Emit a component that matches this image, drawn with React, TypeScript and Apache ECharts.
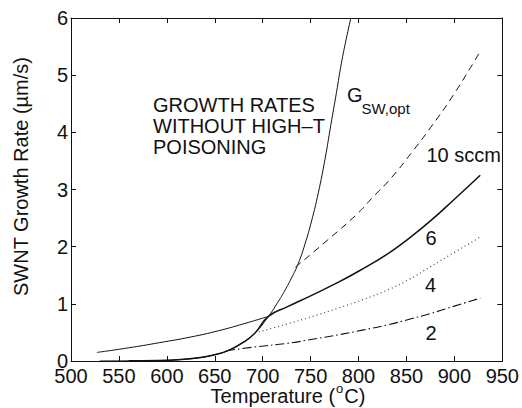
import React, { useEffect, useRef } from "react";
import * as echarts from "echarts";

// Optimal (no-poisoning) growth rate G_SW,opt
const gOptT = [530, 560, 590, 615, 635, 650, 665, 680, 692, 706, 714, 722, 730, 737, 744, 751, 758, 765, 771, 777, 782, 787, 792];
const gOptV = [0.001, 0.003, 0.008, 0.026, 0.06, 0.11, 0.19, 0.33, 0.49, 0.78, 0.98, 1.2, 1.45, 1.7, 2.04, 2.45, 2.94, 3.53, 4.12, 4.7, 5.2, 5.62, 6.0];

// 10 sccm (dashed)
const tenT = [734, 768, 799, 814, 835, 856, 875, 900, 927];
const tenV = [1.64, 2.12, 2.58, 2.85, 3.22, 3.66, 4.08, 4.68, 5.42];

// 6 sccm (solid)
const sixT = [527, 560, 592, 625, 654, 680, 706, 726, 750, 778, 800, 830, 853, 875, 900, 927];
const sixV = [0.15, 0.23, 0.32, 0.42, 0.53, 0.65, 0.78, 0.95, 1.14, 1.37, 1.57, 1.87, 2.15, 2.45, 2.83, 3.25];

// 4 sccm (dotted)
const fourT = [692, 726, 752, 778, 804, 830, 853, 875, 900, 927];
const fourV = [0.49, 0.65, 0.78, 0.92, 1.07, 1.24, 1.43, 1.65, 1.9, 2.17];

// 2 sccm (dash-dot)
const twoT = [662, 694, 726, 752, 778, 804, 830, 853, 875, 900, 927];
const twoV = [0.18, 0.25, 0.31, 0.38, 0.455, 0.54, 0.63, 0.73, 0.83, 0.96, 1.1];

const xMin = 500;
const xMax = 950;
const xStep = 50;
const yMin = 0;
const yMax = 6;
const yStep = 1;

const FONT = "'Liberation Sans', Arial, Helvetica, sans-serif";
const INK = "#111";

function pairs(t: number[], v: number[]) {
  return t.map((x, i) => [x, v[i]]);
}

export default function App() {
  const ref = useRef<HTMLDivElement>(null);

  useEffect(() => {
    document.body.style.margin = "0";
    const chart = echarts.init(ref.current!, null, { renderer: "svg" });

    const crossT = 706;
    const envelope = [
      ...pairs(gOptT, gOptV).filter((p) => p[0] >= 560 && p[0] < crossT),
      ...pairs(sixT, sixV).filter((p) => p[0] >= crossT),
    ];
    const sixLeft = pairs(sixT, sixV).filter((p) => p[0] <= crossT);

    const axisBase = (pos: string, isX: boolean, showLabel: boolean) => ({
      type: "value",
      position: pos,
      min: isX ? xMin : yMin,
      max: isX ? xMax : yMax,
      interval: isX ? xStep : yStep,
      axisLine: { show: true, onZero: false, lineStyle: { color: INK, width: 1 } },
      axisTick: { show: true, inside: true, length: 5, lineStyle: { color: INK, width: 1 } },
      axisLabel: {
        show: showLabel,
        color: INK,
        fontSize: 20,
        fontFamily: FONT,
        margin: isX ? 5 : 3,
        showMinLabel: true,
        showMaxLabel: true,
      },
      splitLine: { show: false },
    });

    const line = (data: number[][], width: number, type: any, color = INK) => ({
      type: "line",
      data,
      symbol: "none",
      smooth: 0.5,
      clip: true,
      silent: true,
      lineStyle: { color, width, type },
    });

    const txt = (text: string, x: number, y: number, size = 20, align = "left") => ({
      type: "text",
      x,
      y,
      silent: true,
      style: {
        text,
        fill: INK,
        fontSize: size,
        fontFamily: FONT,
        textAlign: align,
        textVerticalAlign: "middle",
      },
    });

    const option: any = {
      animation: false,
      backgroundColor: "#fff",
      grid: { left: 71, right: 16, top: 18, bottom: 47 },
      xAxis: [axisBase("bottom", true, true), axisBase("top", true, false)],
      yAxis: [axisBase("left", false, true), axisBase("right", false, false)],
      series: [
        line(pairs(gOptT, gOptV), 1, "solid"),
        line(sixLeft, 1, "solid"),
        line(envelope, 1.5, "solid"),
        line(pairs(tenT, tenV), 1, [7, 5]),
        line(pairs(fourT, fourV), 1.2, [1, 3], "#444"),
        line(pairs(twoT, twoV), 1.1, [9, 3, 1.5, 3]),
      ],
      graphic: [
        txt("GROWTH RATES", 153, 104.5),
        txt("WITHOUT HIGH\u2013T", 153, 125.5),
        txt("POISONING", 153, 146.8),
        txt("G", 347, 95),
        txt("SW,opt", 361.5, 108.5, 15),
        txt("10 sccm", 426.5, 155),
        txt("6", 425.5, 238.3),
        txt("4", 425, 285),
        txt("2", 425.5, 333.3),
        {
          type: "text",
          x: 20.5,
          y: 176.5,
          rotation: Math.PI / 2,
          silent: true,
          style: {
            text: "SWNT Growth Rate (\u00b5m/s)",
            fill: INK,
            fontSize: 20,
            fontFamily: FONT,
            textAlign: "center",
            textVerticalAlign: "middle",
          },
        },
        {
          type: "text",
          x: 288,
          y: 394,
          silent: true,
          style: {
            text: "{n|Temperature (}{s|o}{n|C)}",
            fill: INK,
            fontSize: 20,
            fontFamily: FONT,
            textAlign: "center",
            textVerticalAlign: "middle",
            rich: {
              n: { fontSize: 20, fontFamily: FONT, fill: INK, lineHeight: 24, verticalAlign: "bottom" },
              s: { fontSize: 13, fontFamily: FONT, fill: INK, lineHeight: 13, verticalAlign: "top", padding: [0, 1, 0, 1] },
            },
          },
        },
      ],
    };

    chart.setOption(option);
    return () => chart.dispose();
  }, []);

  return <div ref={ref} style={{ width: 522, height: 408 }} />;
}
